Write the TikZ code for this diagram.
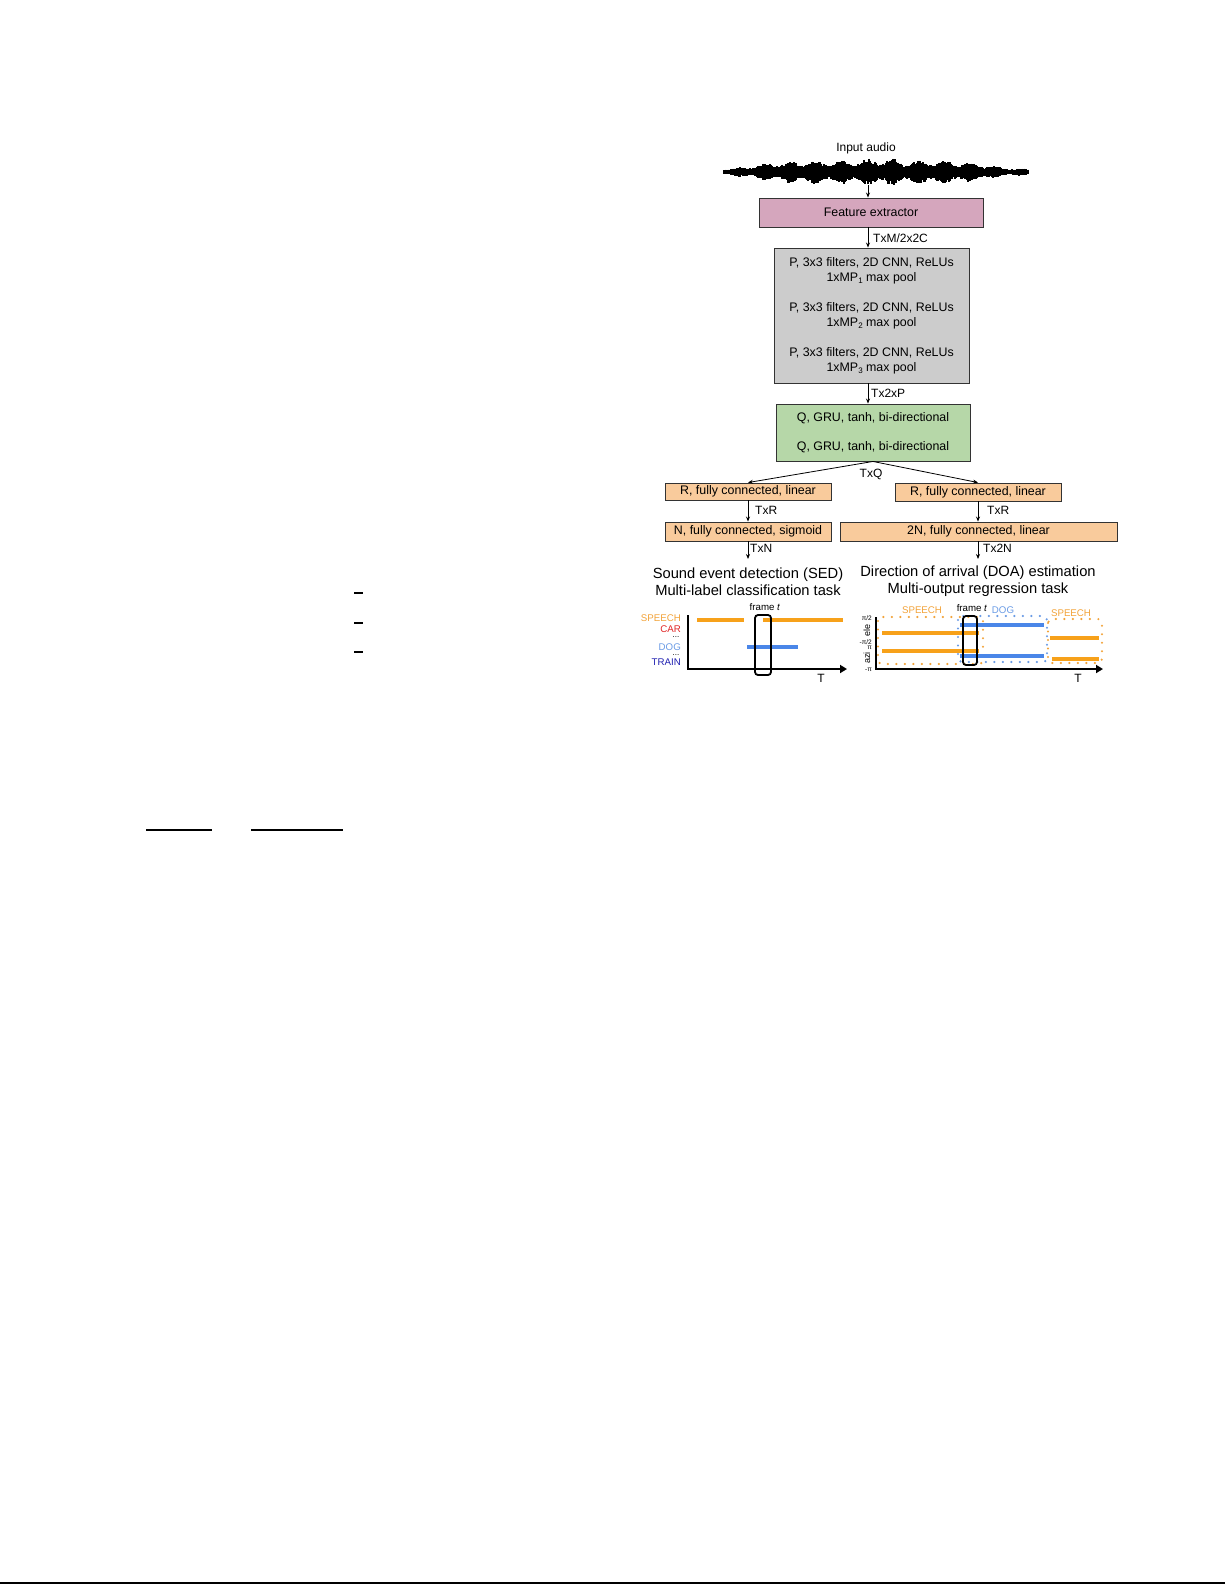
\documentclass[tikz,border=0pt]{standalone}
\usepackage{fontspec}
\setmainfont{Liberation Sans}
\usetikzlibrary{arrows.meta}
\definecolor{featc}{HTML}{D5A6BD}
\definecolor{cnnc}{HTML}{CCCCCC}
\definecolor{gruc}{HTML}{B6D7A8}
\definecolor{fcc}{HTML}{F9CB9C}
\definecolor{orl}{HTML}{F7A11A}
\definecolor{bll}{HTML}{4A86E8}
\definecolor{spc}{HTML}{F2A33A}
\definecolor{carc}{HTML}{E02424}
\definecolor{dogc}{HTML}{6A9BE5}
\definecolor{trainc}{HTML}{1F1FB0}
\definecolor{edgec}{HTML}{333333}
\newcommand{\lowsub}[1]{\raisebox{-2.6pt}{\fontsize{8}{8}\selectfont #1}}
\begin{document}
\begin{tikzpicture}[x=1pt,y=-1pt,
  blk/.style={draw=edgec, line width=0.9pt, inner sep=0pt, align=center, font=\fontsize{12.4}{15}\selectfont},
  lbl/.style={font=\fontsize{12}{14}\selectfont, inner sep=0pt, anchor=west},
  arr/.style={-{Stealth[length=5pt,width=4pt]}, line width=0.8pt},
  ttl/.style={font=\fontsize{14.7}{17}\selectfont, align=center, inner sep=0pt},
  smalltxt/.style={font=\fontsize{9.7}{11}\selectfont, inner sep=0pt},
  dotstxt/.style={font=\fontsize{8}{8}\selectfont, inner sep=0pt},
  tinytxt/.style={font=\fontsize{6.5}{7}\selectfont, inner sep=0pt, anchor=east},
  plotaxis/.style={line width=2pt, -{Triangle[length=7pt,width=8pt]}},
  seg/.style={line width=3.5pt},
  framebox/.style={draw, line width=1.8pt, rounded corners=3pt, inner sep=0pt},
  dotbox/.style={line width=2.4pt, line cap=round, dash pattern=on 0pt off 8.5pt, rounded corners=4pt}
]
\useasboundingbox (0,0) rectangle (1225,1585);

% ---------- input audio ----------
\node[font=\fontsize{12}{14}\selectfont, inner sep=0pt] (inaudio) at (866,148) {Input audio};
\pgfmathsetseed{23}
\foreach \x in {724,725,...,1028}{
  \pgfmathsetmacro\env{2.8+9*exp(-min(pow(abs((\x-872)/118),6),10))+2.5*exp(-min(pow(abs((\x-880)/14),2),10))}
  \pgfmathsetmacro\modu{0.35+0.45*pow(abs(sin((\x-700)*7)),2)+0.2*abs(sin((\x-700)*29+40))}
  \pgfmathsetmacro\at{\env*\modu*(0.72+0.28*rnd)}
  \pgfmathsetmacro\ab{\env*\modu*(0.72+0.28*rnd)}
  \draw[line width=1.3pt] (\x,172-\at-0.8) -- (\x,172+\ab+0.8);
}
\coordinate (wv) at (868,185);

% ---------- blocks ----------
\node[blk, fill=featc, minimum width=224pt, minimum height=29pt] (feat) at (871,212.5) {Feature extractor};
\node[blk, fill=cnnc, minimum width=195pt, minimum height=135pt] (cnn) at (871.5,315.5)
  {P, 3x3 filters, 2D CNN, ReLUs\\1xMP\lowsub{1} max pool\\[15pt]P, 3x3 filters, 2D CNN, ReLUs\\1xMP\lowsub{2} max pool\\[15pt]P, 3x3 filters, 2D CNN, ReLUs\\1xMP\lowsub{3} max pool};
\node[blk, fill=gruc, minimum width=194pt, minimum height=57pt] (gru) at (873,432.5)
  {Q, GRU, tanh, bi-directional\\[14pt]Q, GRU, tanh, bi-directional};
\node[blk, fill=fcc, minimum width=166pt, minimum height=17pt] (r1) at (748,491.5) {R, fully connected, linear};
\node[blk, fill=fcc, minimum width=166pt, minimum height=18pt] (r2) at (978,492) {R, fully connected, linear};
\node[blk, fill=fcc, minimum width=166pt, minimum height=19pt] (n1) at (748,531.5) {N, fully connected, sigmoid};
\node[blk, fill=fcc, minimum width=277pt, minimum height=19pt] (n2) at (978.5,531.5) {2N, fully connected, linear};

% ---------- arrows ----------
\draw[arr] (wv) -- (feat.north -| wv);
\draw[arr] (feat.south -| wv) -- (cnn.north -| wv);
\draw[arr] (cnn.south -| wv) -- (gru.north -| wv);
\draw[arr] (gru.south) -- (r1.north);
\draw[arr] (gru.south) -- (r2.north);
\draw[arr] (r1.south) -- (n1.north);
\draw[arr] (r2.south) -- (r2.south |- n2.north);
\coordinate (sedin) at (748,559);
\coordinate (doain) at (978,559);
\draw[arr] (n1.south) -- (sedin);
\draw[arr] (n2.south -| doain) -- (doain);

\node[lbl] (l1) at (873,238) {TxM/2x2C};
\node[lbl] (l2) at (871,393) {Tx2xP};
\node[lbl, anchor=center] (l3) at (871,474) {TxQ};
\node[lbl] (l4) at (755,510) {TxR};
\node[lbl] (l5) at (987,510) {TxR};
\node[lbl] (l6) at (750,548) {TxN};
\node[lbl] (l7) at (983,548) {Tx2N};

% ---------- titles ----------
\node[ttl] (sedt) at (748,581.5) {Sound event detection (SED)\\Multi-label classification task};
\node[ttl] (doat) at (978,581.5) {Direction of arrival (DOA) estimation\\Multi-output regression task};

% ---------- SED plot ----------
\node[smalltxt, anchor=east, text=spc] (lsp) at (681,618) {SPEECH};
\node[smalltxt, anchor=east, text=carc] (lcar) at (681,629) {CAR};
\node[dotstxt] (ld1) at (676,637.5) {...};
\node[smalltxt, anchor=east, text=dogc] (ldog) at (681,647) {DOG};
\node[dotstxt] (ld2) at (676,655.5) {...};
\node[smalltxt, anchor=east, text=trainc] (ltr) at (681,662) {TRAIN};
\coordinate (sy0) at (688,615);
\coordinate (so) at (688,669);
\coordinate (sx1) at (847,669);
\draw[plotaxis] (sy0) -- (so) -- (sx1);
\draw[seg, orl] (697,620) -- (744,620);
\draw[seg, orl] (763,620) -- (843,620);
\draw[seg, bll] (747,647) -- (798,647);
\node[framebox, minimum width=16pt, minimum height=60pt] (fr1) at (763,645) {};
\node[smalltxt] (ft1) at (765,607) {frame \textit{t}};
\node[font=\fontsize{12}{14}\selectfont, inner sep=0pt] (tt1) at (821,678) {T};

% ---------- DOA plot ----------
\node[smalltxt, text=spc] (dsp1) at (922,610) {SPEECH};
\node[smalltxt] (ft2) at (972,608) {frame \textit{t}};
\node[smalltxt, text=dogc] (ddog) at (1003,610) {DOG};
\node[smalltxt, text=spc] (dsp2) at (1071,613) {SPEECH};
\draw[dotbox, draw=dogc] (958,616) rectangle (1047,662);
\draw[dotbox, draw=spc] (878,617) rectangle (983,664);
\draw[dotbox, draw=spc] (1048,619) rectangle (1102,663);
\draw[seg, orl] (882,633) -- (979,633);
\draw[seg, orl] (882,651) -- (979,651);
\draw[seg, bll] (960,625) -- (1044,625);
\draw[seg, bll] (960,656) -- (1044,656);
\draw[seg, orl] (1050,638) -- (1099,638);
\draw[seg, orl] (1052,659) -- (1099,659);
\coordinate (dy0) at (876,617);
\coordinate (do) at (876,669);
\coordinate (dx1) at (1103,669);
\draw[plotaxis] (dy0) -- (do) -- (dx1);
\node[framebox, minimum width=14pt, minimum height=49pt] (fr2) at (970,640.5) {};
\node[tinytxt] (tk1) at (872,618) {π/2};
\node[tinytxt] (tk2) at (872,642) {-π/2};
\node[tinytxt] (tk3) at (872,648) {π};
\node[tinytxt] (tk4) at (872,670) {-π};
\node[font=\fontsize{9}{10}\selectfont, inner sep=0pt, rotate=90] (lele) at (867,630) {ele};
\node[font=\fontsize{9}{10}\selectfont, inner sep=0pt, rotate=90] (lazi) at (867,658) {azi};
\node[font=\fontsize{12}{14}\selectfont, inner sep=0pt] (tt2) at (1078,678) {T};

% ---------- page marks ----------
\draw[line width=1.4pt] (354,593) -- (363,593);
\draw[line width=1.4pt] (354,623) -- (363,623);
\draw[line width=1.4pt] (354,652) -- (363,652);
\draw[line width=1.2pt] (146,830) -- (212,830);
\draw[line width=1.2pt] (251,830) -- (343,830);
\draw[line width=2.5pt] (0,1583) -- (1225,1583);
\end{tikzpicture}
\end{document}
